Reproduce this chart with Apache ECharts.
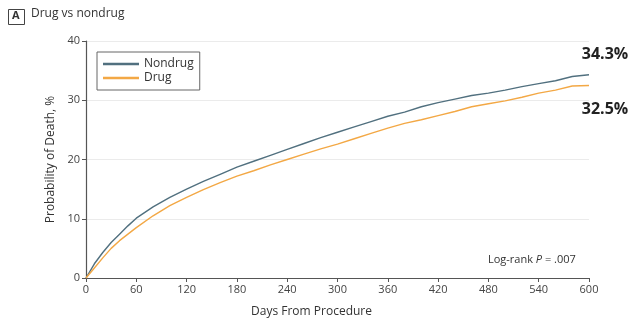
<!DOCTYPE html>
<html>
<head>
<meta charset="utf-8">
<script src="https://cdn.jsdelivr.net/npm/echarts@6/dist/echarts.min.js"></script>
<style>
  html, body { margin: 0; padding: 0; background: #fff; }
  #main { width: 630px; height: 321px; }
</style>
</head>
<body>
<div id="main"></div>
<script>
// days from procedure
var days = [0, 10, 20, 30, 40, 50, 60, 80, 100, 120, 140, 160, 180, 200, 220, 240, 260, 280,
  300, 320, 340, 360, 380, 400, 420, 440, 460, 480, 500, 520, 540, 560, 580, 600];
// probability of death, %
var nondrug = [0, 2.4, 4.3, 6.0, 7.4, 8.8, 10.1, 12.0, 13.6, 15.0, 16.3, 17.5, 18.7, 19.7, 20.7, 21.7, 22.7, 23.7,
  24.6, 25.5, 26.4, 27.3, 28.0, 28.9, 29.6, 30.2, 30.8, 31.2, 31.7, 32.3, 32.8, 33.3, 34.0, 34.3];
var drug = [0, 1.7, 3.4, 5.0, 6.3, 7.4, 8.5, 10.5, 12.2, 13.6, 14.9, 16.1, 17.2, 18.1, 19.1, 20.0, 20.9, 21.8,
  22.6, 23.5, 24.4, 25.3, 26.1, 26.7, 27.4, 28.1, 28.9, 29.4, 29.9, 30.5, 31.2, 31.7, 32.4, 32.5];
var xTicks = [0, 60, 120, 180, 240, 300, 360, 420, 480, 540, 600];
var yTicks = [0, 10, 20, 30, 40];

var font = 'Open Sans, sans-serif';
var chart = echarts.init(document.getElementById('main'));

function pairs(ys) {
  return days.map(function (d, i) { return [d, ys[i]]; });
}

var option = {
  animation: false,
  textStyle: { fontFamily: font },
  grid: { left: 86, right: 41, top: 41, bottom: 43, outerBoundsMode: 'none' },
  legend: {
    left: 97, top: 52,
    orient: 'vertical',
    padding: [5, 6, 5, 6],
    borderColor: '#666', borderWidth: 1,
    itemWidth: 36, itemHeight: 2.5, itemGap: 0,
    icon: 'rect',
    textStyle: { fontSize: 12, color: '#333', lineHeight: 14, fontFamily: font },
    data: ['Nondrug', 'Drug']
  },
  xAxis: {
    type: 'value', min: 0, max: xTicks[xTicks.length - 1], interval: 60,
    name: 'Days From Procedure', nameLocation: 'middle', nameGap: 28,
    nameTextStyle: { fontSize: 12, color: '#333', padding: [0, 52, 0, 0] },
    axisLine: { lineStyle: { color: '#555', width: 1.2 } },
    axisTick: { show: true, length: 4, lineStyle: { color: '#555' } },
    axisLabel: { fontSize: 11, color: '#444', margin: 6 },
    splitLine: { show: false }
  },
  yAxis: {
    type: 'value', min: 0, max: yTicks[yTicks.length - 1], interval: 10,
    name: 'Probability of Death, %', nameLocation: 'middle', nameGap: 28,
    nameTextStyle: { fontSize: 12, color: '#333' },
    axisLine: { show: true, lineStyle: { color: '#555', width: 1.2 } },
    axisTick: { show: true, length: 4, lineStyle: { color: '#555' } },
    axisLabel: { fontSize: 11, color: '#444', margin: 6 },
    splitLine: { show: true, lineStyle: { color: '#ebebeb', width: 1 } }
  },
  series: [
    {
      name: 'Nondrug', type: 'line', data: pairs(nondrug),
      showSymbol: false, symbol: 'none',
      lineStyle: { color: '#51707f', width: 1.4 },
      itemStyle: { color: '#51707f' },
      markPoint: {
        symbol: 'circle', symbolSize: 0,
        data: [{ coord: [600, 34.3] }],
        label: { show: true, formatter: '34.3%', offset: [16, -20], fontSize: 16, fontWeight: 'bold', color: '#222', fontFamily: font }
      }
    },
    {
      name: 'Drug', type: 'line', data: pairs(drug),
      showSymbol: false, symbol: 'none',
      lineStyle: { color: '#f3a845', width: 1.4 },
      itemStyle: { color: '#f3a845' },
      markPoint: {
        symbol: 'circle', symbolSize: 0,
        data: [{ coord: [600, 32.5] }],
        label: { show: true, formatter: '32.5%', offset: [16, 24], fontSize: 16, fontWeight: 'bold', color: '#222', fontFamily: font }
      }
    }
  ],
  graphic: [
    { type: 'rect', left: 8, top: 9, shape: { width: 16, height: 15 }, style: { fill: '#fff', stroke: '#444', lineWidth: 1 } },
    { type: 'text', left: 12, top: 10, style: { text: 'A', fill: '#333', font: 'bold 11px Open Sans' } },
    { type: 'text', left: 31, top: 8, style: { text: 'Drug vs nondrug', fill: '#333', font: '12px Open Sans' } },
    {
      type: 'text', left: 488, top: 254,
      style: {
        text: 'Log-rank {i|P} = .007', fill: '#333', font: '11px Open Sans',
        rich: { i: { fontStyle: 'italic', fontSize: 11, fontFamily: font } }
      }
    }
  ]
};
chart.setOption(option);
</script>
</body>
</html>
